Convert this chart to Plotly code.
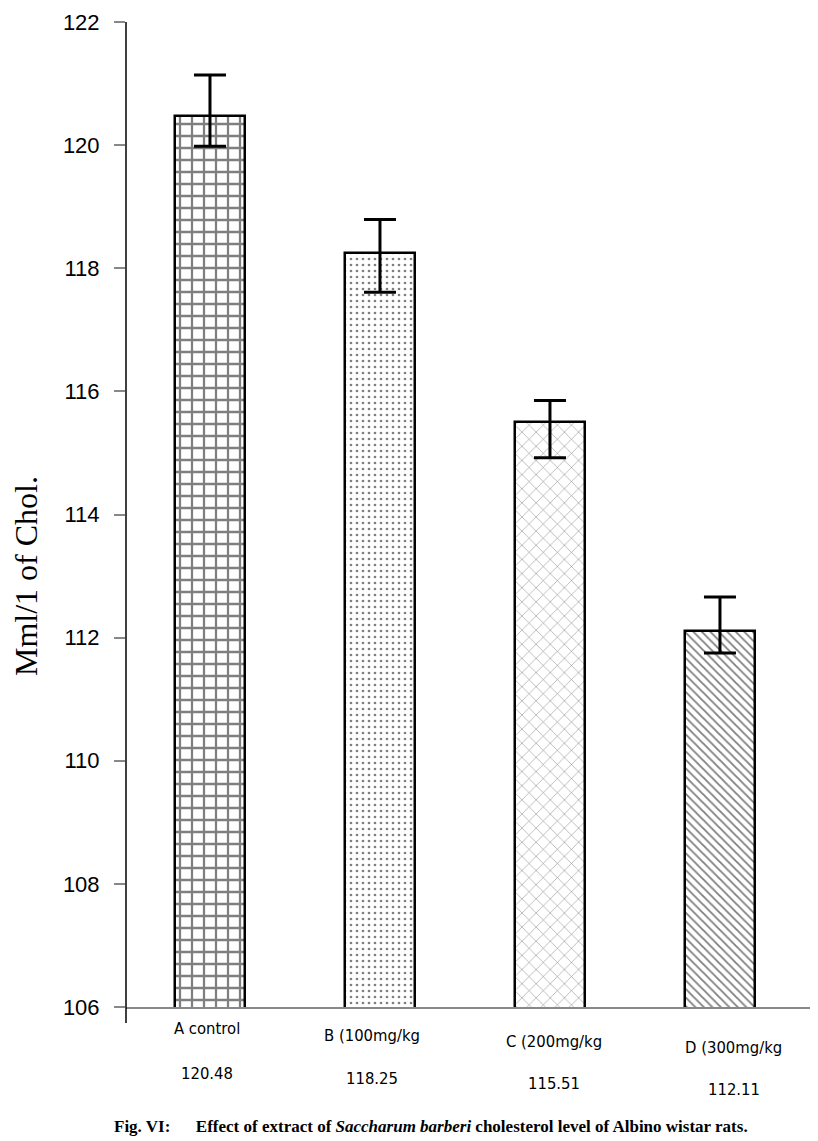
import plotly.graph_objects as go

categories = ["A control", "B (100mg/kg", "C (200mg/kg", "D (300mg/kg"]
values = [120.48, 118.25, 115.51, 112.11]
value_labels = ["120.48", "118.25", "115.51", "112.11"]
err_plus = [0.66, 0.54, 0.34, 0.55]
err_minus = [0.50, 0.64, 0.59, 0.36]
y_ticks = [106, 108, 110, 112, 114, 116, 118, 120, 122]

patterns = [
    dict(shape="+", size=12, solidity=0.34, fgcolor="black", bgcolor="white"),
    dict(shape=".", size=6, solidity=0.16, fgcolor="black", bgcolor="white"),
    dict(shape="x", size=10, solidity=0.1, fgcolor="black", bgcolor="white"),
    dict(shape="\\", size=6, solidity=0.3, fgcolor="black", bgcolor="white"),
]

x = list(range(len(categories)))
fig = go.Figure()
for i in range(len(categories)):
    fig.add_trace(go.Bar(
        x=[x[i]], y=[values[i]], width=0.41,
        marker=dict(color="white", pattern=patterns[i],
                    line=dict(color="black", width=2.5)),
        error_y=dict(type="data", symmetric=False, array=[err_plus[i]],
                     arrayminus=[err_minus[i]], color="black",
                     thickness=3, width=16),
        showlegend=False,
    ))

lab_font = dict(family="DejaVu Sans Condensed, DejaVu Sans", size=16.5, color="black")
cat_dx = [-3, -8, 4, 14]
cat_dy = [21, 28, 34, 40]
val_dy = [66, 71, 76, 82]
for i in range(len(categories)):
    fig.add_annotation(x=x[i], y=0, xref="x", yref="paper", yanchor="middle",
                       xshift=cat_dx[i], yshift=-cat_dy[i], text=categories[i],
                       showarrow=False, font=lab_font)
    fig.add_annotation(x=x[i], y=0, xref="x", yref="paper", yanchor="middle",
                       xshift=cat_dx[i], yshift=-val_dy[i], text=value_labels[i],
                       showarrow=False, font=lab_font)

fig.add_annotation(
    x=0.4427, y=0, xref="paper", yref="paper", yanchor="middle", yshift=-119,
    text="<b>Fig. VI:&nbsp;&nbsp;&nbsp;&nbsp;&nbsp; Effect of extract of <i>Saccharum barberi</i> cholesterol level of Albino wistar rats.</b>",
    showarrow=False, font=dict(family="Liberation Serif", size=17, color="black"))

# y-axis title
fig.add_annotation(
    x=0, y=0, xref="paper", yref="paper", xanchor="center", yanchor="middle",
    xshift=-100, yshift=431, textangle=-90, text="Mml/1 of Chol.",
    showarrow=False, font=dict(family="Liberation Serif", size=32, color="black"))

# y axis line extending slightly below the x axis
fig.add_shape(type="line", xref="paper", yref="paper", x0=0, x1=0, y0=-0.0162, y1=1,
              line=dict(color="black", width=1.5))

fig.update_layout(
    width=810, height=1133,
    margin=dict(l=118, r=3, t=14, b=134),
    plot_bgcolor="white", paper_bgcolor="white",
    bargap=0,
    xaxis=dict(range=[-0.494, 3.559], showticklabels=False, ticks="",
               showgrid=False, zeroline=False, showline=True,
               linecolor="#888888", linewidth=1.5),
    yaxis=dict(range=[106, 122], tickvals=y_ticks, showgrid=False, zeroline=False,
               showline=False, ticks="outside", ticklen=11, tickcolor="#888888",
               tickwidth=1.5, ticklabelstandoff=10,
               tickfont=dict(family="Liberation Sans", size=22, color="black")),
)

fig.write_html("out.html")
